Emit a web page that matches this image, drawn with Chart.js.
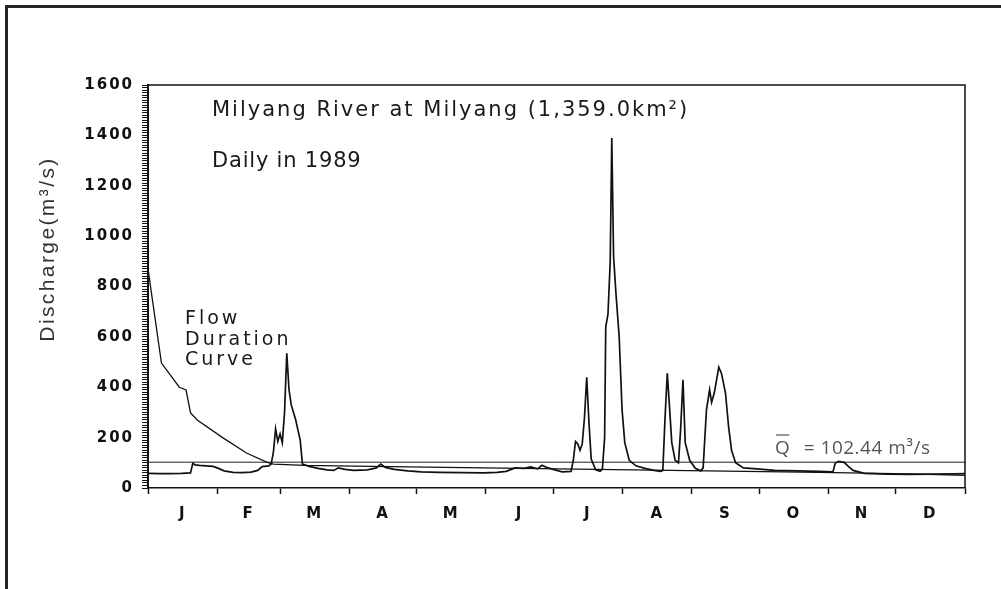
<!DOCTYPE html>
<html>
<head>
<meta charset="utf-8">
<script src="https://cdn.jsdelivr.net/npm/chart.js@4"></script>
<style>
  html, body { margin: 0; padding: 0; background: #fff; }
  #wrap { position: relative; width: 1001px; height: 589px; overflow: hidden; }
  #frame { position: absolute; left: 5px; top: 5px; right: 0; bottom: 0;
           border-left: 3px solid #262626; border-top: 3px solid #262626; }
  canvas { position: absolute; left: 0; top: 0; }
</style>
</head>
<body>
<div id="wrap">
  <canvas id="chart" width="1001" height="589"></canvas>
  <div id="frame"></div>
</div>
<script>
// month letters and where each month starts (day of year)
const months = ['J', 'F', 'M', 'A', 'M', 'J', 'J', 'A', 'S', 'O', 'N', 'D'];
const monthStarts = [0, 31, 59, 90, 120, 151, 181, 212, 243, 273, 304, 334, 365];
const yTickLabels = [0, 200, 400, 600, 800, 1000, 1200, 1400, 1600];

// daily discharge 1989 (day of year, m3/s)
const hydroDays = [0, 5, 10, 15, 19, 20, 21, 23, 26, 29, 31, 34, 38, 42, 46, 49, 51, 54, 55, 56,
  57, 58, 59, 60, 61, 62, 63, 64, 65, 66, 67, 68, 69, 72, 76, 80, 83, 85, 88, 92,
  98, 102, 104, 106, 110, 116, 122, 130, 140, 150, 156, 160, 164, 168, 171, 174, 176, 178, 181, 185,
  189, 190, 191, 192, 193, 194, 195, 196, 197, 198, 200, 202, 203, 204, 204.5, 205.5, 206.5, 207.2, 208, 209,
  210.5, 211.8, 213, 215, 218, 222, 226, 229, 230, 231, 232, 233, 234, 235.5, 237, 238, 239, 240, 242, 244.5,
  247, 248, 249.5, 250.9, 251.8, 253, 255, 256.2, 258, 259.4, 260.7, 262.5, 266, 272, 280, 290, 300, 306, 307, 308.5,
  311, 313, 315, 320, 330, 340, 350, 360, 365];
const hydroFlow = [58, 57, 57, 58, 60, 98, 92, 90, 88, 86, 80, 68, 62, 61, 63, 70, 85, 88, 95, 140,
  235, 185, 215, 180, 300, 535, 390, 330, 300, 270, 230, 190, 95, 86, 78, 72, 70, 80, 74, 70,
  72, 80, 95, 82, 74, 68, 64, 62, 61, 60, 62, 66, 80, 78, 84, 76, 90, 82, 74, 64,
  66, 110, 185, 175, 150, 175, 280, 440, 260, 115, 72, 66, 75, 200, 640, 690, 900, 1390, 920, 780,
  600, 310, 180, 110, 88, 78, 70, 66, 70, 280, 455, 320, 180, 110, 100, 240, 430, 180, 110, 78,
  68, 80, 310, 390, 340, 378, 480, 455, 377, 242, 150, 100, 80, 76, 70, 68, 66, 64, 98, 106,
  102, 85, 70, 58, 55, 54, 55, 56, 57];

// flow duration curve (exceedance in days, m3/s)
const fdcDays = [0, 2, 6, 14, 17, 19, 22, 33, 44, 53, 56, 70, 100, 150, 200, 250, 300, 340, 365];
const fdcFlow = [870, 746, 496, 400, 389, 298, 270, 202, 139, 103, 95, 90, 86, 80, 74, 68, 62, 56, 50];

const meanFlow = 102.44;

const monthMids = months.map((m, i) => (monthStarts[i] + monthStarts[i + 1]) / 2);
const tickFont = { family: 'DejaVu Sans', size: 15, weight: 'bold' };

const textPlugin = {
  id: 'texts',
  beforeDraw(chart) {
    chart.ctx.letterSpacing = '2px';
  },
  afterDraw(chart) {
    const ctx = chart.ctx;
    const a = chart.chartArea;
    ctx.save();
    ctx.letterSpacing = '0px';
    // top and right frame of plot
    ctx.strokeStyle = '#111';
    ctx.lineWidth = 1.5;
    ctx.beginPath();
    ctx.moveTo(a.left, a.top);
    ctx.lineTo(a.right, a.top);
    ctx.lineTo(a.right, a.bottom);
    ctx.stroke();

    ctx.fillStyle = '#1a1a1a';
    ctx.textBaseline = 'middle';
    ctx.textAlign = 'left';
    ctx.font = '21px "DejaVu Sans"';
    ctx.letterSpacing = '2px';
    ctx.fillText('Milyang River at Milyang (1,359.0km²)', 212, 111);
    ctx.letterSpacing = '0.8px';
    ctx.fillText('Daily in 1989', 212, 162);

    ctx.font = '19px "DejaVu Sans"';
    ctx.letterSpacing = '3px';
    ctx.fillText('Flow', 185, 319);
    ctx.fillText('Duration', 185, 340);
    ctx.fillText('Curve', 185, 360);

    // y axis title
    ctx.save();
    ctx.translate(48, 249);
    ctx.rotate(-Math.PI / 2);
    ctx.textAlign = 'center';
    ctx.fillStyle = '#333';
    ctx.font = '21px "Liberation Sans"';
    ctx.letterSpacing = '2.4px';
    ctx.fillText('Discharge(m³/s)', 0, 0);
    ctx.restore();

    // mean flow label
    ctx.letterSpacing = '0.5px';
    ctx.fillStyle = '#555';
    ctx.font = '19px "Open Sans"';
    ctx.fillText('Q', 775, 449);
    const qw = ctx.measureText('Q').width;
    ctx.fillText(' = 102.44 m³/s', 775 + qw + 8, 449);
    ctx.strokeStyle = '#555';
    ctx.lineWidth = 1.2;
    ctx.beginPath();
    ctx.moveTo(776, 435);
    ctx.lineTo(775 + qw - 1, 435);
    ctx.stroke();
    ctx.restore();
  }
};

new Chart(document.getElementById('chart').getContext('2d'), {
  type: 'line',
  data: {
    datasets: [
      {
        label: 'Daily',
        data: hydroDays.map((d, i) => ({ x: d, y: hydroFlow[i] })),
        borderColor: '#111', borderWidth: 1.7, pointRadius: 0, tension: 0
      },
      {
        label: 'Flow Duration Curve',
        data: fdcDays.map((d, i) => ({ x: d, y: fdcFlow[i] })),
        borderColor: '#111', borderWidth: 1.3, pointRadius: 0, tension: 0
      },
      {
        label: 'Mean',
        data: [{ x: 0, y: meanFlow }, { x: 365, y: meanFlow }],
        borderColor: '#222', borderWidth: 1, pointRadius: 0
      }
    ]
  },
  options: {
    responsive: false,
    animation: false,
    layout: { padding: { left: 0, top: 85, right: 36, bottom: 61 } },
    plugins: { legend: { display: false }, tooltip: { enabled: false } },
    scales: {
      x: {
        type: 'linear', min: 0, max: 365,
        afterBuildTicks: s => {
          const t = monthStarts.concat(monthMids).sort((a, b) => a - b);
          s.ticks = t.map(v => ({ value: v }));
        },
        afterFit: s => { s.height = 40; },
        grid: {
          drawOnChartArea: false, tickLength: 6, tickWidth: 1.5,
          tickColor: c => (c.tick && monthMids.includes(c.tick.value)) ? 'rgba(0,0,0,0)' : '#111'
        },
        border: { color: '#111', width: 1.5 },
        ticks: {
          autoSkip: false, maxRotation: 0, padding: 11, color: '#111', font: tickFont,
          callback: v => { const i = monthMids.indexOf(v); return i >= 0 ? months[i] : ''; }
        }
      },
      y: {
        min: 0, max: 1600,
        afterBuildTicks: s => {
          const t = [];
          for (let v = 0; v <= 1600; v += 10) t.push({ value: v });
          s.ticks = t;
        },
        afterFit: s => { s.width = 148; },
        grid: { drawOnChartArea: false, tickLength: 6, tickWidth: 1, tickColor: '#111' },
        border: { color: '#111', width: 2 },
        ticks: {
          autoSkip: false, padding: 8, color: '#111', font: tickFont,
          callback: v => yTickLabels.includes(v) ? String(v) : ''
        }
      }
    }
  },
  plugins: [textPlugin]
});
</script>
</body>
</html>
